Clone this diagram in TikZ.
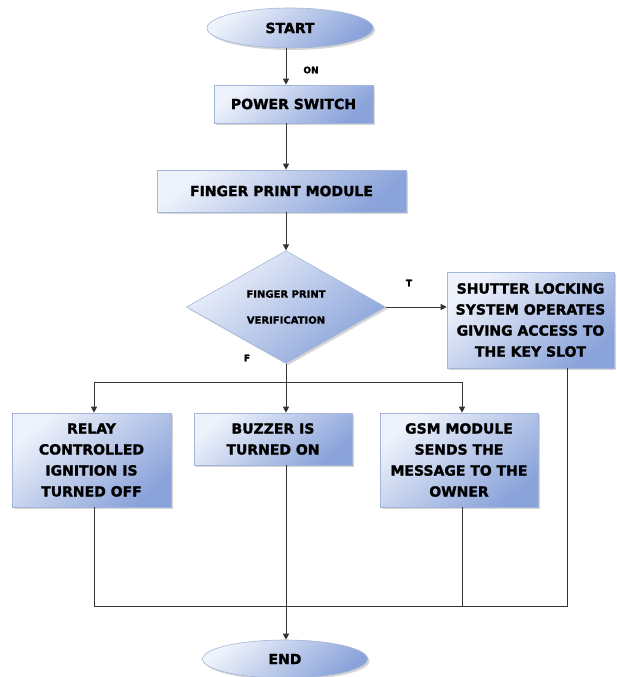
\documentclass[tikz,border=0pt]{standalone}
\usepackage{fontspec}
\setmainfont{DejaVu Sans}[BoldFeatures={FakeBold=1.6}]
\usetikzlibrary{shapes.geometric,arrows.meta,shadows}
\definecolor{cLight}{HTML}{EEF2FB}
\definecolor{cDark}{HTML}{8AA3DA}
\definecolor{cEdge}{HTML}{A3B5DA}
\definecolor{cLine}{HTML}{333333}
\begin{document}
\begin{tikzpicture}[x=1pt,y=-1pt,
  shapebase/.style={draw=cEdge, line width=0.6pt, inner sep=0pt, align=center,
    shading=axis, top color=cLight, bottom color=cDark, shading angle=40,
    drop shadow={shadow xshift=2pt, shadow yshift=-2pt, fill=black!35, opacity=0.45},
    font=\bfseries\fontsize{14}{21}\selectfont},
  procbox/.style={shapebase, rectangle},
  termnode/.style={shapebase, ellipse},
  decnode/.style={shapebase, diamond, font=\bfseries\fontsize{10}{26}\selectfont},
  lbl/.style={font=\bfseries\fontsize{9}{11}\selectfont, inner sep=0pt},
  conn/.style={draw=cLine, line width=0.9pt},
  arr/.style={conn, -{Triangle[length=6pt, width=6pt]}}
]
\useasboundingbox (0,0) rectangle (616,677);
\fill[white] (0,0) rectangle (616,677);

\node[termnode, minimum width=166pt, minimum height=40pt] (start) at (290,28) {START};
\node[procbox, minimum width=159pt, minimum height=38pt] (power) at (293.5,104) {POWER SWITCH};
\node[procbox, minimum width=249pt, minimum height=42pt] (fpm) at (281.5,191) {FINGER PRINT MODULE};
\node[decnode, minimum width=199pt, minimum height=100pt] (dia) at (286,307) {FINGER PRINT\\VERIFICATION};
\node[procbox, minimum width=167pt, minimum height=96pt] (shutter) at (530.5,320)
  {SHUTTER LOCKING\\SYSTEM OPERATES\\GIVING ACCESS TO\\THE KEY SLOT};
\node[procbox, minimum width=159pt, minimum height=94pt] (relay) at (91.5,460)
  {RELAY\\CONTROLLED\\IGNITION IS\\TURNED OFF};
\node[procbox, minimum width=158pt, minimum height=52pt] (buzzer) at (273,439)
  {BUZZER IS\\TURNED ON};
\node[procbox, minimum width=158pt, minimum height=94pt] (gsm) at (459,460)
  {GSM MODULE\\SENDS THE\\MESSAGE TO THE\\OWNER};
\node[termnode, minimum width=165pt, minimum height=38pt] (end) at (285,659) {END};

\node[lbl] (on) at (311,70) {ON};
\node[lbl] (tl) at (409,283) {T};
\node[lbl] (fl) at (247,358) {F};

% guide coordinates
\coordinate (ax) at (286,0);
\coordinate (relx) at (94,0);
\coordinate (gsmx) at (462,0);
\coordinate (shx) at (567,0);
\coordinate (bus) at (0,382);
\coordinate (ret) at (0,606);

\draw[arr] (start.south -| ax) -- (power.north -| ax);
\draw[arr] (power.south -| ax) -- (fpm.north -| ax);
\draw[arr] (fpm.south -| ax) -- (dia.north);
\draw[arr] (dia.east) -- (shutter.west |- dia.east);

\draw[conn] (dia.south) -- (bus -| ax);
\draw[conn] (bus -| relx) -- (bus -| gsmx);
\draw[arr] (bus -| relx) -- (relay.north -| relx);
\draw[arr] (bus -| ax) -- (buzzer.north -| ax);
\draw[arr] (bus -| gsmx) -- (gsm.north -| gsmx);

\draw[conn] (relay.south -| relx) -- (ret -| relx) -- (ret -| shx) -- (shutter.south -| shx);
\draw[conn] (gsm.south -| gsmx) -- (ret -| gsmx);
\draw[arr] (buzzer.south -| ax) -- (end.north -| ax);
\end{tikzpicture}
\end{document}
